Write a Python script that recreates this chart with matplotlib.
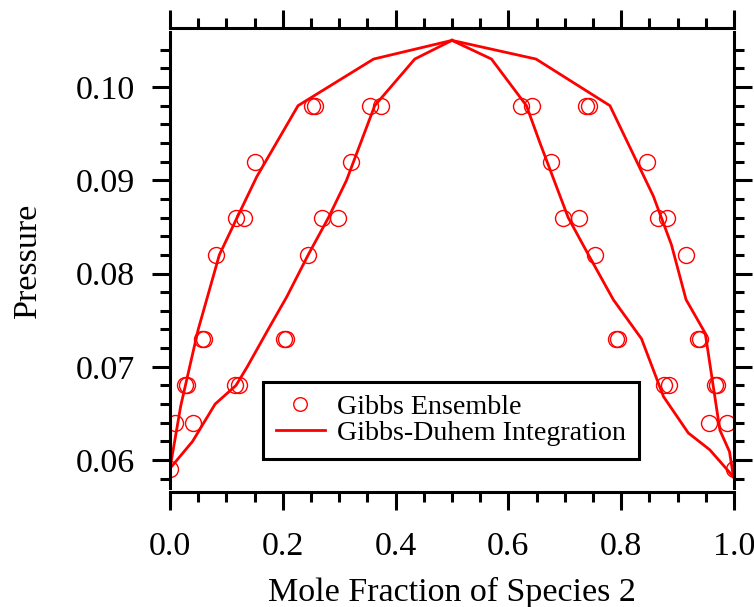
import matplotlib
matplotlib.use('Agg')
import matplotlib.pyplot as plt
from matplotlib.ticker import MultipleLocator, FormatStrFormatter

plt.rcParams['font.family'] = ['Liberation Serif', 'DejaVu Serif']

# Gibbs ensemble points (mole fraction, pressure)
x_ge = [0.0, 1.0,
        0.009, 0.041, 0.956, 0.987,
        0.027, 0.030, 0.115, 0.123, 0.875, 0.884, 0.967, 0.970,
        0.057, 0.060, 0.202, 0.205, 0.791, 0.794, 0.937, 0.939,
        0.082, 0.245, 0.753, 0.915,
        0.117, 0.131, 0.270, 0.298, 0.697, 0.725, 0.866, 0.881,
        0.151, 0.321, 0.676, 0.845,
        0.251, 0.257, 0.355, 0.374, 0.622, 0.641, 0.738, 0.743]
p_ge = [0.059] * 2 + [0.064] * 4 + [0.068] * 8 + [0.073] * 8 + [0.082] * 4 \
    + [0.086] * 8 + [0.092] * 4 + [0.098] * 8

# Gibbs-Duhem integration curves
x_gd1 = [0.0, 0.019, 0.050, 0.065, 0.0875, 0.119, 0.154, 0.227, 0.361, 0.5]
p_gd1 = [0.0591, 0.0658, 0.074, 0.0772, 0.082, 0.086, 0.0904, 0.098, 0.103, 0.105]
x_gd2 = [0.0, 0.040, 0.080, 0.117, 0.137, 0.174, 0.207, 0.245, 0.281, 0.313, 0.363, 0.434, 0.5]
p_gd2 = [0.0591, 0.062, 0.066, 0.068, 0.070, 0.074, 0.0775, 0.082, 0.086, 0.090, 0.098, 0.103, 0.105]
x_gd3 = [0.5, 0.570, 0.632, 0.656, 0.681, 0.706, 0.742, 0.786, 0.836, 0.875, 0.919, 0.957, 0.999]
p_gd3 = [0.105, 0.103, 0.098, 0.094, 0.090, 0.086, 0.082, 0.0772, 0.073, 0.0668, 0.0629, 0.0611, 0.0582]
x_gd4 = [0.5, 0.649, 0.780, 0.857, 0.889, 0.915, 0.949, 0.975, 0.992, 0.999]
p_gd4 = [0.105, 0.103, 0.098, 0.0883, 0.0831, 0.0772, 0.0736, 0.0632, 0.0609, 0.0582]

red = '#ff0000'

fig = plt.figure(figsize=(7.54, 6.07), dpi=100)
ax = fig.add_axes([170 / 754, 1 - 488 / 607, 564 / 754, 456 / 607])

ax.plot(x_ge, p_ge, 'o', ms=11.5, mfc='none', mec=red, mew=1.0, label='Gibbs Ensemble')
ax.plot(x_gd1, p_gd1, '-', color=red, lw=2.0, label='Gibbs-Duhem Integration')
ax.plot(x_gd2, p_gd2, '-', color=red, lw=2.0)
ax.plot(x_gd3, p_gd3, '-', color=red, lw=2.0)
ax.plot(x_gd4, p_gd4, '-', color=red, lw=2.0)

ax.set_xlim(0, 1)
ax.set_ylim(0.0570, 0.1059)

ax.xaxis.set_major_locator(MultipleLocator(0.2))
ax.xaxis.set_minor_locator(MultipleLocator(0.05))
ax.yaxis.set_major_locator(MultipleLocator(0.01))
ax.yaxis.set_minor_locator(MultipleLocator(0.002))
ax.xaxis.set_major_formatter(FormatStrFormatter('%.1f'))
ax.yaxis.set_major_formatter(FormatStrFormatter('%.2f'))

for s in ['top', 'bottom']:
    ax.spines[s].set_position(('outward', 3))
for s in ax.spines.values():
    s.set_linewidth(2.2)

ax.tick_params(which='both', direction='out', top=True, right=True, width=2.2, labelsize=24.5)
ax.tick_params(which='major', length=13)
ax.tick_params(which='minor', length=7)
ax.tick_params(axis='x', pad=15)
ax.tick_params(axis='y', pad=12)

ax.set_xlabel('Mole Fraction of Species 2', fontsize=24.5, labelpad=11)
ax.set_ylabel('Pressure', fontsize=24.5, labelpad=24)

leg = ax.legend(loc='upper left', bbox_to_anchor=(0.165, 0.2325), borderaxespad=0,
                fontsize=20.2, fancybox=False, edgecolor='black', framealpha=1,
                handlelength=1.75, handletextpad=0.45, labelspacing=0.0,
                borderpad=0.45, markerscale=0.85)
leg.get_frame().set_linewidth(2.2)

fig.savefig('out.png', dpi=100)
